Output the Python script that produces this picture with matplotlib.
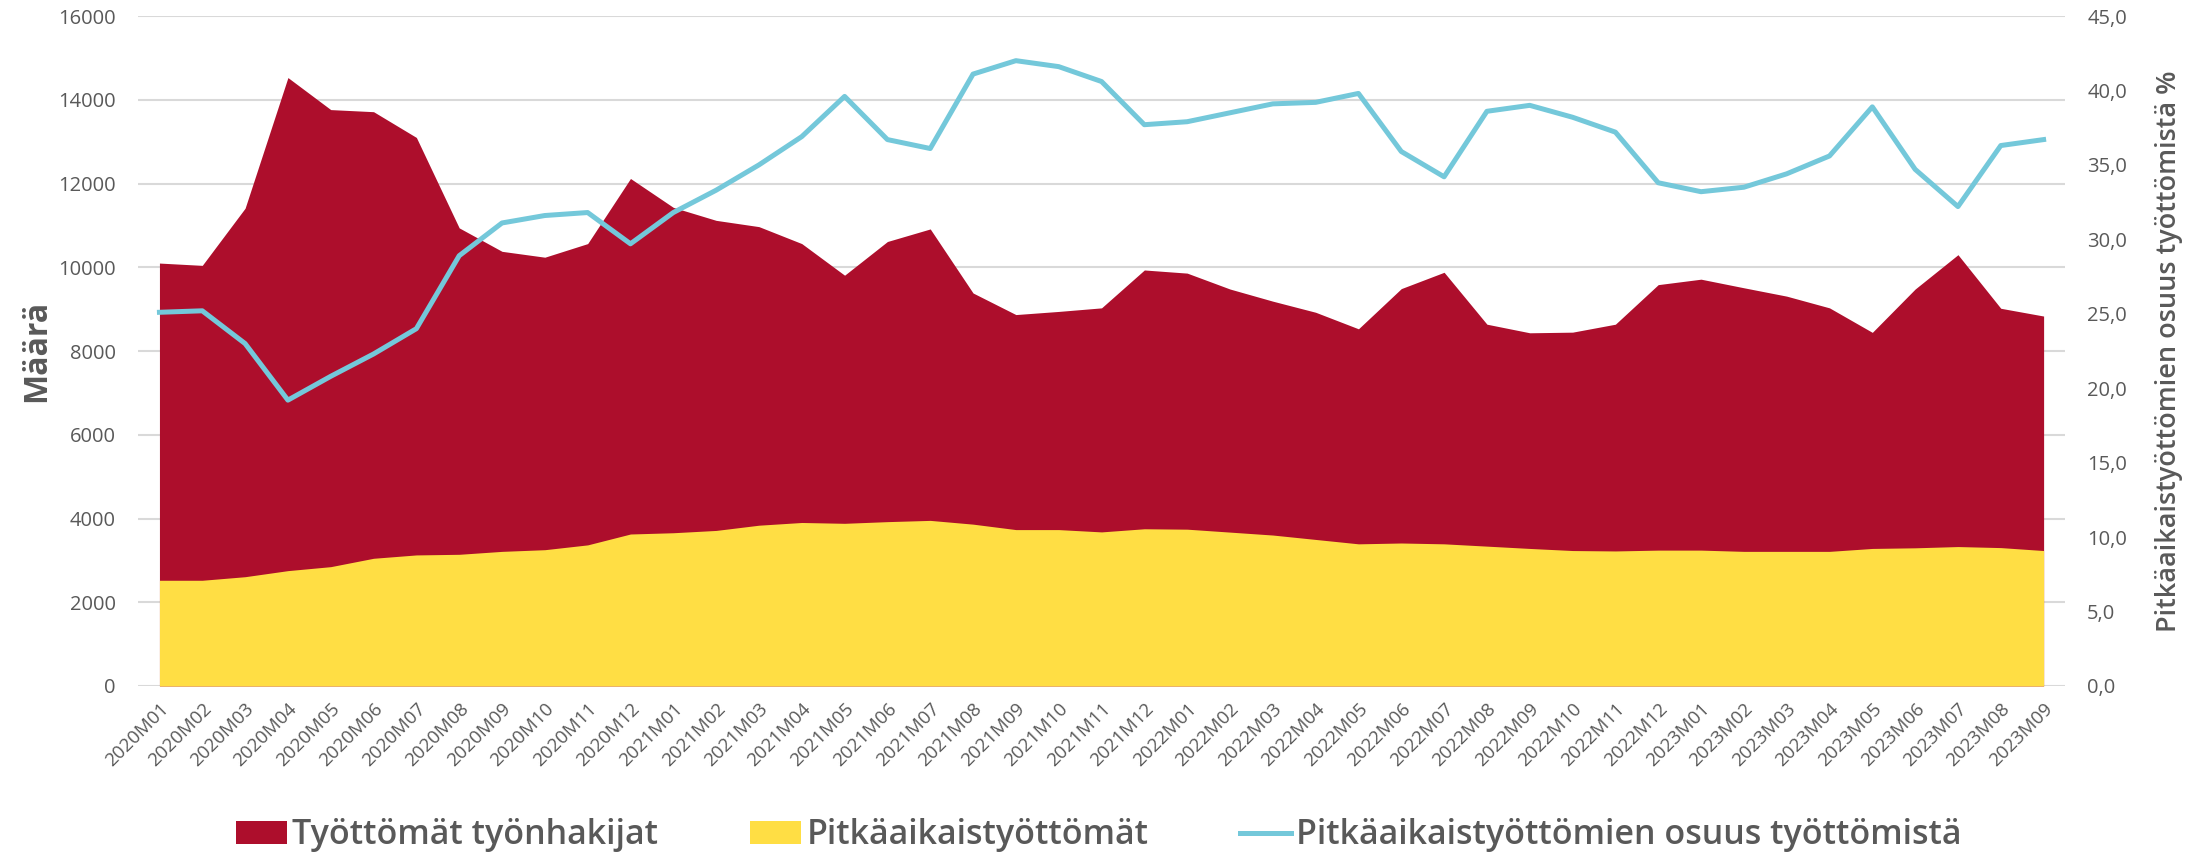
import matplotlib
matplotlib.use("Agg")
import matplotlib.pyplot as plt
import numpy as np

# monthly figures 2020M01 .. 2023M09
months = [f"{y}M{m:02d}" for y in (2020, 2021, 2022, 2023) for m in range(1, 13)][:45]

tyottomat = [10100, 10045, 11410, 14530, 13765, 13715, 13100, 10940, 10380, 10240,
             10565, 12120, 11430, 11120, 10970, 10565, 9810, 10615, 10915, 9385,
             8870, 8945, 9030, 9935, 9860, 9480, 9190, 8925, 8530, 9490,
             9880, 8640, 8435, 8450, 8640, 9585, 9715, 9510, 9310, 9030,
             8445, 9480, 10300, 9020, 8835]

pitkaaikais = [2525, 2525, 2610, 2755, 2850, 3050, 3130, 3145, 3215, 3255,
               3370, 3630, 3660, 3715, 3840, 3905, 3885, 3925, 3955, 3865,
               3735, 3735, 3680, 3755, 3745, 3675, 3605, 3500, 3395, 3415,
               3395, 3340, 3285, 3235, 3225, 3245, 3245, 3215, 3215, 3215,
               3285, 3300, 3330, 3305, 3235]

osuus = [25.1, 25.2, 23.0, 19.2, 20.8, 22.3, 24.0, 28.9, 31.1, 31.6,
         31.8, 29.7, 31.8, 33.3, 35.0, 36.9, 39.6, 36.7, 36.1, 41.1,
         42.0, 41.6, 40.6, 37.7, 37.9, 38.5, 39.1, 39.2, 39.8, 35.9,
         34.2, 38.6, 39.0, 38.2, 37.2, 33.8, 33.2, 33.5, 34.4, 35.6,
         38.9, 34.7, 32.2, 36.3, 36.7]

RED = "#AD0E2C"
YELLOW = "#FFDE44"
BLUE = "#74C8DA"
GREY = "#595959"
GRID = "#D9D9D9"

plt.rcParams['font.family'] = ['Open Sans', 'DejaVu Sans']

fig = plt.figure(figsize=(21.98, 8.56), dpi=100)
ax = fig.add_axes([0.0628, 0.1986, 0.8767, 0.7827])
x = np.arange(len(months))

ax.fill_between(x, 0, tyottomat, color=RED, lw=0, label="Työttömät työnhakijat")
ax.fill_between(x, 0, pitkaaikais, color=YELLOW, lw=0, label="Pitkäaikaistyöttömät")

ax.set_xlim(-0.5, len(months) - 0.5)
ax.set_ylim(0, 16000)
ax.set_yticks(np.arange(0, 16001, 2000))
ax.grid(axis='y', color=GRID, lw=1.5)
ax.set_axisbelow(True)
for s in ax.spines.values():
    s.set_visible(False)
ax.axhline(0, color=GRID, lw=2, zorder=0)

ax.set_xticks(x)
ax.set_xticklabels(months, rotation=45, ha='right', rotation_mode='anchor')
ax.tick_params(axis='x', length=0, pad=10, labelsize=13.5, labelcolor=GREY)
ax.tick_params(axis='y', length=0, pad=16, labelsize=14.5, labelcolor=GREY)
ax.set_ylabel("Määrä", fontsize=23, fontweight='bold', color=GREY, labelpad=4)

ax2 = ax.twinx()
ax2.plot(x, osuus, color=BLUE, lw=3.6, solid_joinstyle='round',
         label="Pitkäaikaistyöttömien osuus työttömistä")
ax2.set_ylim(0, 45)
ax2.set_yticks(np.arange(0, 46, 5))
ax2.set_yticklabels([f"{v:.1f}".replace(".", ",") for v in np.arange(0, 46, 5)])
ax2.tick_params(axis='y', length=0, pad=16, labelsize=14.5, labelcolor=GREY)
for s in ax2.spines.values():
    s.set_visible(False)
ax2.set_ylabel("Pitkäaikaistyöttömien osuus työttömistä %", fontsize=19.5,
               fontweight='semibold', color=GREY, labelpad=20)

h1, l1 = ax.get_legend_handles_labels()
h2, l2 = ax2.get_legend_handles_labels()
fig.legend(h1 + h2, l1 + l2, loc='center', bbox_to_anchor=(0.5, 0.024), ncol=3,
           frameon=False, prop={'size': 24.5, 'weight': 'semibold'}, labelcolor=GREY,
           handlelength=1.5, handleheight=0.66, handletextpad=0.15, columnspacing=2.7)

fig.savefig("out.png", dpi=100)
